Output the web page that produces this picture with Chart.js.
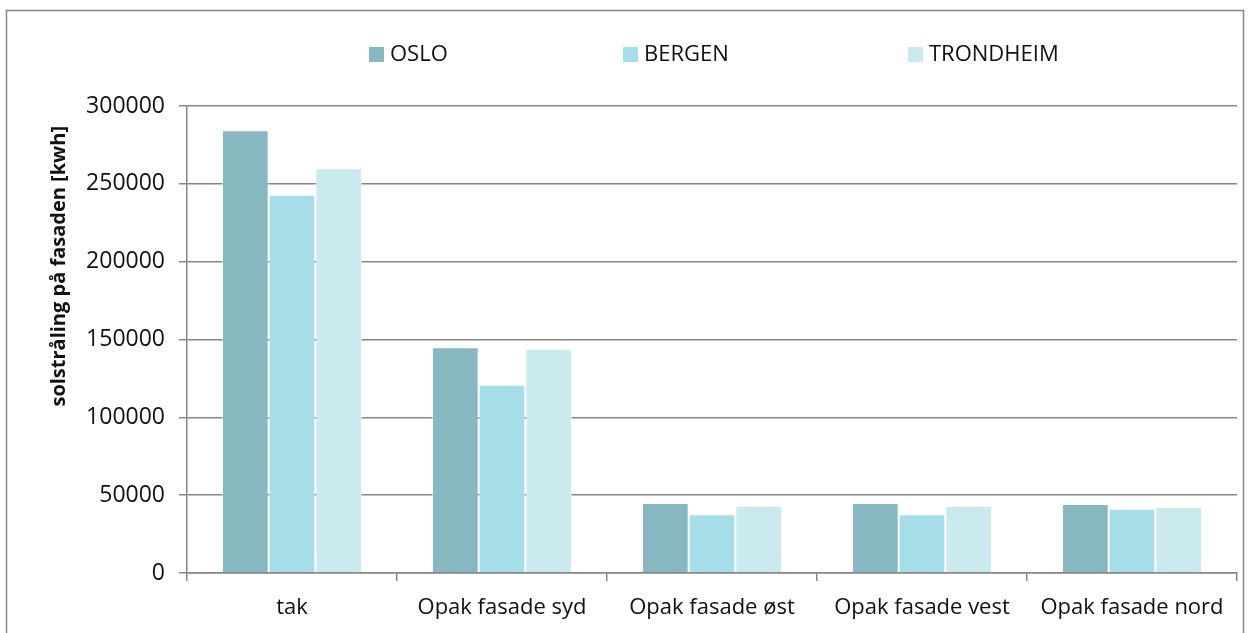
<!DOCTYPE html>
<html lang="no">
<head>
    <meta charset="UTF-8">
    <title>Solstråling på fasaden</title>
    <script src="https://cdn.jsdelivr.net/npm/chart.js"></script>
    <style>
        html, body { margin: 0; padding: 0; background: #fff; }
        #wrap { width: 1250px; height: 633px; }
    </style>
</head>
<body>
    <div id="wrap"><canvas id="chart"></canvas></div>

    <script>
        // data lest av figuren
        var kategorier = ['tak', 'Opak fasade syd', 'Opak fasade øst', 'Opak fasade vest', 'Opak fasade nord'];
        var byer = ['OSLO', 'BERGEN', 'TRONDHEIM'];
        var oslo = [284500, 145000, 45000, 45000, 44300];
        var bergen = [243000, 121000, 37700, 37700, 41300];
        var trondheim = [260000, 144000, 43000, 43000, 42400];
        var farger = ['#87B7C0', '#A5DEE9', '#CAEAF0'];

        var font = "'Open Sans', 'Liberation Sans', sans-serif";
        var gra = '#868686';

        // ramme rundt hele figuren
        var rammePlugin = {
            id: 'ramme',
            beforeDraw: function(chart) {
                var ctx = chart.ctx;
                ctx.save();
                ctx.strokeStyle = gra;
                ctx.lineWidth = 1.5;
                ctx.strokeRect(6.5, 10.5, chart.width - 13, chart.height + 10);
                ctx.restore();
            }
        };

        // forklaring øverst, med store mellomrom som i originalen
        var forklaringPlugin = {
            id: 'forklaring',
            afterDraw: function(chart) {
                var ctx = chart.ctx;
                var startX = [369, 623, 908];
                ctx.save();
                ctx.font = '22px ' + font;
                ctx.textBaseline = 'middle';
                chart.data.datasets.forEach(function(ds, i) {
                    ctx.fillStyle = ds.backgroundColor;
                    ctx.fillRect(startX[i], 47, 15, 15);
                    ctx.fillStyle = '#111';
                    ctx.fillText(ds.label, startX[i] + 21, 55);
                });
                ctx.restore();
            }
        };

        var ctx = document.getElementById('chart').getContext('2d');
        new Chart(ctx, {
            type: 'bar',
            data: {
                labels: kategorier,
                datasets: [
                    { label: byer[0], data: oslo, backgroundColor: farger[0] },
                    { label: byer[1], data: bergen, backgroundColor: farger[1] },
                    { label: byer[2], data: trondheim, backgroundColor: farger[2] }
                ]
            },
            options: {
                responsive: true,
                maintainAspectRatio: false,
                animation: false,
                datasets: {
                    bar: {
                        categoryPercentage: 0.667,
                        barPercentage: 1.0,
                        borderWidth: 1,
                        borderColor: 'rgba(255,255,255,0.45)'
                    }
                },
                layout: {
                    padding: { top: 106, right: 13, bottom: 0, left: 0 }
                },
                plugins: {
                    legend: { display: false },
                    tooltip: { enabled: false }
                },
                scales: {
                    x: {
                        grid: {
                            drawOnChartArea: false,
                            drawTicks: true,
                            tickLength: 8,
                            color: gra,
                            lineWidth: 1.5
                        },
                        border: { color: gra, width: 1.5 },
                        ticks: {
                            color: '#111',
                            padding: 14,
                            maxRotation: 0,
                            font: { family: font, size: 22 }
                        },
                        afterFit: function(scale) { scale.height = 60; }
                    },
                    y: {
                        min: 0,
                        max: 300000,
                        ticks: {
                            stepSize: 50000,
                            color: '#111',
                            padding: 14,
                            font: { family: font, size: 23 },
                            callback: function(v) { return String(v); }
                        },
                        grid: {
                            color: gra,
                            lineWidth: 1.5,
                            tickLength: 8
                        },
                        border: { color: gra, width: 1.5 },
                        title: {
                            display: true,
                            // em-mellomrom til slutt flytter teksten litt ned fra toppen
                            text: 'solstråling på fasaden [kwh]\u2003',
                            align: 'end',
                            color: '#111',
                            padding: { top: 47, bottom: 0 },
                            font: { family: font, size: 20, weight: 'bold' }
                        },
                        afterFit: function(scale) { scale.width = 187; }
                    }
                }
            },
            plugins: [rammePlugin, forklaringPlugin]
        });
    </script>
</body>
</html>
